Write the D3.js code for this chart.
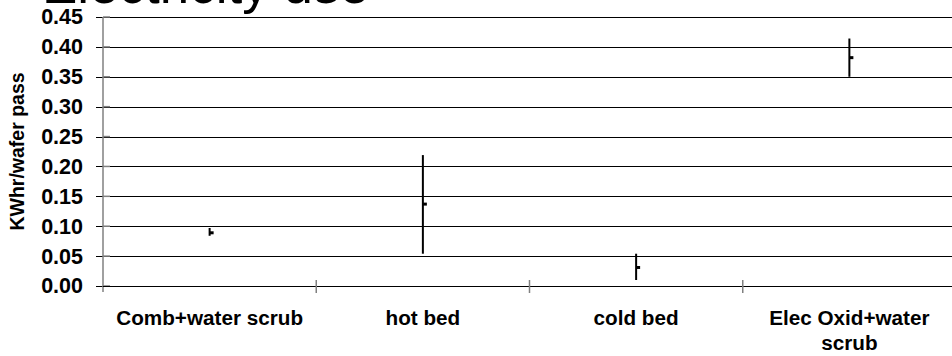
<!DOCTYPE html>
<html>
<head>
<meta charset="utf-8">
<script src="https://cdn.jsdelivr.net/npm/d3@7"></script>
<style>
  body { margin: 0; background: #fff; }
  text { font-family: Arial, "Liberation Sans", sans-serif; fill: #000; }
</style>
</head>
<body>
<div id="area"></div>
<script>
let categories = ["Comb+water scrub", "hot bed", "cold bed", "Elec Oxid+water scrub"];
let highs  = [0.097, 0.219, 0.054, 0.414];
let lows   = [0.084, 0.054, 0.010, 0.350];
let closes = [0.089, 0.137, 0.031, 0.382];
let yTicks = [0, 0.05, 0.10, 0.15, 0.20, 0.25, 0.30, 0.35, 0.40, 0.45];

let margin = {
  top:    17,
  right:  -4,
  bottom: 70,
  left:   103
};

let exteriorWidth  = 952,
    exteriorHeight = 356;

let interiorWidth  = exteriorWidth - margin.left - margin.right,
    interiorHeight = exteriorHeight - margin.top - margin.bottom;

let root =
  d3.select("#area")
    .append("svg")
      .attr("width", exteriorWidth)
      .attr("height", exteriorHeight);

// title, sits mostly above the top of the picture
root.append("text")
    .attr("x", 42)
    .attr("y", 3)
    .attr("font-size", 53)
    .text("Electricity use");

let svg =
  root.append("g")
    .attr("transform", translate(margin.left, margin.top));

let data = categories.map(function(c, i) {
  return {category: c, high: highs[i], low: lows[i], close: closes[i]};
});

let x =
  d3.scaleBand()
    .domain(categories)
    .range([0, interiorWidth]);

let y =
  d3.scaleLinear()
    .domain([0, 0.45])
    .range([interiorHeight, 0]);

// gridlines with left ticks
let yAxis = svg.append("g")
    .call(d3.axisLeft(y)
      .tickValues(yTicks)
      .tickSize(-interiorWidth)
      .tickPadding(20)
      .tickFormat(d3.format(".2f")));

yAxis.select(".domain").remove();
yAxis.selectAll(".tick line")
    .attr("x1", -7)
    .attr("stroke", "#000")
    .attr("shape-rendering", "crispEdges");
yAxis.selectAll(".tick text")
    .attr("font-size", 21.5)
    .attr("font-weight", "bold")
    .attr("font-family", "Arial, 'Liberation Sans', sans-serif");

// left axis line (gray) with cross ticks
svg.append("line")
    .attr("x1", 0).attr("x2", 0)
    .attr("y1", 0).attr("y2", interiorHeight + 6)
    .attr("stroke", "#808080")
    .attr("stroke-width", 1.5);

svg.append("g")
  .selectAll("line")
  .data(yTicks)
  .enter().append("line")
    .attr("x1", 0).attr("x2", 7)
    .attr("y1", function(d) { return y(d); })
    .attr("y2", function(d) { return y(d); })
    .attr("stroke", "#808080")
    .attr("stroke-width", 1.5);

// bottom axis, ticks at band edges
svg.append("line")
    .attr("x1", 0).attr("x2", interiorWidth)
    .attr("y1", interiorHeight).attr("y2", interiorHeight)
    .attr("stroke", "#000")
    .attr("shape-rendering", "crispEdges");

svg.append("g")
  .selectAll("line")
  .data(categories.slice(1))
  .enter().append("line")
    .attr("x1", function(d) { return x(d); })
    .attr("x2", function(d) { return x(d); })
    .attr("y1", interiorHeight - 6)
    .attr("y2", interiorHeight + 7)
    .attr("stroke", "#808080")
    .attr("stroke-width", 1.5);

svg.append("g")
  .selectAll("text")
  .data(categories)
  .enter().append("text")
    .attr("x", function(d) { return x(d) + x.bandwidth() / 2; })
    .attr("y", interiorHeight + 39)
    .attr("text-anchor", "middle")
    .attr("font-size", 20.7)
    .attr("font-weight", "bold")
    .text(function(d) { return d; })
    .call(wrap, x.bandwidth() - 10);

// high-low lines
let marks = svg.append("g")
  .selectAll("g")
  .data(data)
  .enter().append("g");

marks.append("line")
    .attr("x1", function(d) { return x(d.category) + x.bandwidth() / 2; })
    .attr("x2", function(d) { return x(d.category) + x.bandwidth() / 2; })
    .attr("y1", function(d) { return y(d.high); })
    .attr("y2", function(d) { return y(d.low); })
    .attr("stroke", "#000")
    .attr("stroke-width", 2);

// close ticks
marks.append("line")
    .attr("x1", function(d) { return x(d.category) + x.bandwidth() / 2; })
    .attr("x2", function(d) { return x(d.category) + x.bandwidth() / 2 + 4; })
    .attr("y1", function(d) { return y(d.close); })
    .attr("y2", function(d) { return y(d.close); })
    .attr("stroke", "#000")
    .attr("stroke-width", 3);

// y title
root.append("text")
    .attr("transform", translate(24, margin.top + interiorHeight / 2) + " rotate(-90)")
    .attr("text-anchor", "middle")
    .attr("font-size", 19.5)
    .attr("font-weight", "bold")
    .text("KWhr/wafer pass");


function wrap(text, width) {
  text.each(function() {
    let t = d3.select(this),
        words = t.text().split(/\s+/),
        line = [],
        tx = t.attr("x"),
        tspan = t.text(null).append("tspan").attr("x", tx);
    words.forEach(function(w) {
      line.push(w);
      tspan.text(line.join(" "));
      if (tspan.node().getComputedTextLength() > width && line.length > 1) {
        line.pop();
        tspan.text(line.join(" "));
        line = [w];
        tspan = t.append("tspan")
            .attr("x", tx)
            .attr("dy", 25)
            .text(w);
      }
    });
  });
}

function translate(x, y=0) {
  return "translate({x}, {y})"
          .replace("{x}", x)
          .replace("{y}", y);
}
</script>
</body>
</html>
